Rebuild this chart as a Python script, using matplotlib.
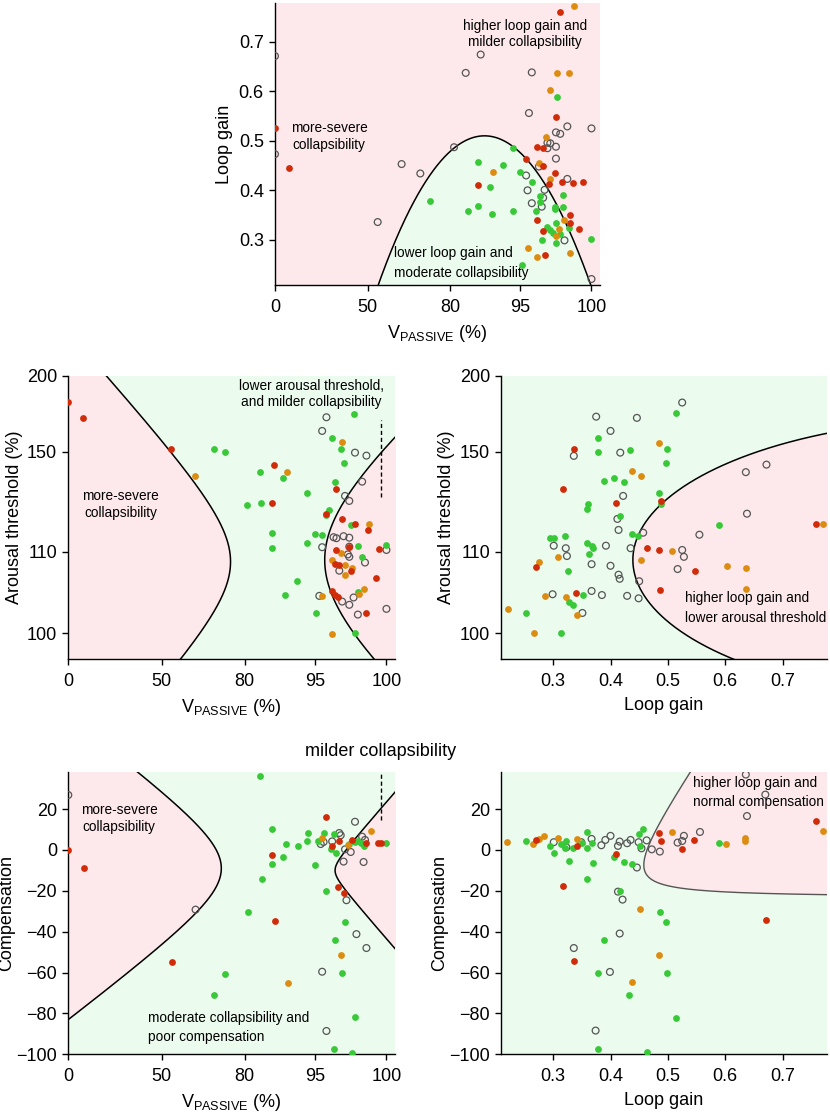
import numpy as np
import matplotlib
matplotlib.use('Agg')
import matplotlib.pyplot as plt

plt.rcParams['font.family'] = ['Liberation Sans', 'DejaVu Sans']
plt.rcParams['mathtext.fontset'] = 'custom'
plt.rcParams['mathtext.rm'] = 'Liberation Sans'
plt.rcParams['mathtext.it'] = 'Liberation Sans:italic'
plt.rcParams['mathtext.bf'] = 'Liberation Sans:bold'

# ---------------- axis tick values ----------------
V_TICKS = [0, 50, 80, 95, 100]
V_TICK_LABELS = ['0', '50', '80', '95', '100']
AT_TICKS = [100, 110, 150, 200]
LG_TICKS = [0.3, 0.4, 0.5, 0.6, 0.7]
COMP_TICKS = [20, 0, -20, -40, -60, -80, -100]

# ---------------- panel 1: V_PASSIVE vs loop gain ----------------
p1_open_v = [0, 0, 53.6, 62.3, 69.1, 80.8, 83.3, 86.5, 95.6, 95.8, 98.3, 100, 97.5, 97.8, 96.9,
             97.1, 96.9, 97.5, 97.5, 96.3, 95.4, 98.3, 95.5, 96.6, 96.7, 95.8, 96.5, 98.1, 100]
p1_open_lg = [0.671, 0.473, 0.336, 0.453, 0.434, 0.487, 0.637, 0.674, 0.556, 0.638, 0.529, 0.525, 0.517, 0.514, 0.496,
              0.495, 0.485, 0.488, 0.464, 0.448, 0.430, 0.423, 0.400, 0.385, 0.401, 0.374, 0.367, 0.299, 0.221]
p1_green_v = [72.8, 83.8, 85.9, 85.9, 88.4, 88.9, 91.2, 93.4, 93.4, 95.0, 95.8, 95.1, 96.1, 96.4, 96.4,
              96.5, 96.9, 97.1, 97.3, 97.4, 97.4, 97.5, 97.5, 97.6, 97.8, 98.0, 98.0, 98.4, 100]
p1_green_lg = [0.378, 0.358, 0.457, 0.369, 0.406, 0.352, 0.451, 0.358, 0.486, 0.438, 0.416, 0.250, 0.358, 0.377, 0.389,
               0.300, 0.326, 0.320, 0.313, 0.362, 0.367, 0.335, 0.293, 0.589, 0.311, 0.391, 0.367, 0.324, 0.301]
p1_orange_v = [89.1, 96.8, 96.3, 97.1, 97.1, 97.6, 98.4, 98.8, 95.5, 96.2, 97.5, 97.7, 98.1, 98.5]
p1_orange_lg = [0.437, 0.508, 0.455, 0.422, 0.603, 0.637, 0.637, 0.772, 0.284, 0.265, 0.308, 0.322, 0.340, 0.274]
p1_red_v = [0, 7.6, 85.9, 95.4, 96.2, 96.6, 96.6, 97.4, 97.0, 97.9, 98.7, 99.4, 97.5, 97.8, 96.2, 96.6, 96.7, 98.5, 98.5, 99.1]
p1_red_lg = [0.525, 0.446, 0.410, 0.463, 0.488, 0.485, 0.450, 0.435, 0.412, 0.416, 0.414, 0.416, 0.547, 0.760,
             0.340, 0.318, 0.269, 0.350, 0.335, 0.322]

# ---------------- panel 2: V_PASSIVE vs arousal threshold ----------------
p2_open_v = [95.8, 95.5, 97.8, 98.6, 98.3, 97.1, 97.4, 95.5, 96.3, 96.5, 97.0, 97.4, 97.4, 97.3, 97.4, 98.5,
             96.7, 100, 95.3, 96.9, 97.4, 97.7, 98.0, 100]
p2_open_at = [172.8, 163.8, 149.7, 148.5, 138.1, 132.4, 130.4, 111.9, 115.9, 115.5, 116.3, 115.7, 112.1, 109.7, 109.4,
              108.7, 107.7, 110.8, 104.6, 103.9, 103.5, 104.4, 102.3, 103.0]
p2_green_v = [68.9, 72.8, 83.2, 88.2, 80.6, 83.6, 93.2, 85.8, 85.8, 91.1, 88.7, 93.4, 94.9, 95.5, 95.1, 97.7,
              96.2, 96.8, 97.0, 96.4, 96.0, 95.8, 97.5, 98.0, 98.3, 98.0, 97.8, 100]
p2_green_at = [151.8, 149.8, 142.0, 139.7, 128.9, 129.5, 133.5, 117.7, 111.7, 106.4, 104.7, 113.5, 117.3, 116.8, 102.5,
               175.2, 159.2, 152.0, 145.5, 138.1, 126.8, 124.8, 120.8, 112.4, 109.4, 105.1, 100.0, 112.7]
p2_orange_v = [62.1, 89.0, 96.9, 98.8, 96.2, 96.8, 97.1, 97.1, 97.6, 98.4, 95.5, 96.2, 98.1]
p2_orange_at = [140.4, 142.1, 156.4, 121.3, 109.0, 109.9, 108.4, 107.2, 108.0, 105.4, 104.6, 99.9, 104.8]
p2_red_v = [0, 7.9, 53.5, 86.3, 85.8, 96.5, 95.8, 96.9, 97.8, 98.7, 96.5, 97.4, 96.4, 96.7, 97.5, 99.5, 99.3,
            96.2, 96.4, 96.6, 98.6]
p2_red_at = [182.7, 172.1, 152.0, 144.8, 129.5, 135.1, 125.2, 123.2, 121.1, 118.7, 110.8, 111.9, 108.5, 108.4,
             107.7, 111.3, 106.8, 105.2, 104.7, 104.4, 102.5]

# ---------------- panel 3: loop gain vs arousal threshold ----------------
p3_open_lg = [0.525, 0.375, 0.446, 0.400, 0.336, 0.417, 0.422, 0.636, 0.672, 0.638, 0.412, 0.414, 0.457, 0.555,
              0.301, 0.322, 0.324, 0.392, 0.435, 0.367, 0.400, 0.414, 0.416, 0.450, 0.525, 0.528, 0.517, 0.299,
              0.367, 0.385, 0.429, 0.449, 0.351]
p3_open_at = [182.5, 173.2, 172.4, 163.8, 148.4, 149.7, 132.4, 141.9, 144.9, 125.3, 123.2, 118.8, 117.7, 116.9,
              112.5, 111.5, 109.5, 112.5, 111.5, 108.5, 108.3, 107.2, 106.7, 106.4, 110.8, 109.4, 107.9, 104.8,
              105.2, 104.7, 104.6, 104.3, 102.5]
p3_green_lg = [0.514, 0.378, 0.378, 0.434, 0.498, 0.496, 0.389, 0.406, 0.424, 0.485, 0.488, 0.360, 0.359, 0.416,
               0.589, 0.438, 0.448, 0.320, 0.294, 0.302, 0.359, 0.368, 0.369, 0.362, 0.325, 0.352, 0.327, 0.335,
               0.252, 0.313]
p3_green_at = [175.7, 159.4, 149.9, 151.3, 151.8, 145.7, 138.3, 139.6, 137.9, 133.5, 129.1, 129.3, 127.1, 124.3,
               120.8, 117.3, 116.4, 116.4, 115.6, 115.6, 113.6, 112.3, 111.7, 109.7, 107.7, 104.7, 103.9, 103.5,
               102.5, 100.0]
p3_orange_lg = [0.485, 0.438, 0.453, 0.276, 0.309, 0.454, 0.507, 0.603, 0.636, 0.636, 0.285, 0.322, 0.341, 0.221,
                0.266, 0.770]
p3_orange_at = [156.1, 142.4, 140.4, 108.8, 109.4, 109.0, 110.3, 108.3, 108.0, 105.4, 104.6, 104.4, 102.3, 103.0,
                100.0, 121.3]
p3_red_lg = [0.337, 0.318, 0.410, 0.488, 0.463, 0.485, 0.547, 0.487, 0.340, 0.270, 0.758]
p3_red_at = [152.0, 135.2, 129.6, 130.3, 111.7, 110.8, 107.7, 105.3, 104.9, 108.2, 121.1]

# ---------------- panel 4: V_PASSIVE vs compensation ----------------
p4_open_v = [0, 62.3, 95.5, 95.8, 97.8, 97.2, 97.9, 98.6, 97.0, 98.4, 95.4, 95.6, 96.2, 96.7, 96.8, 97.1, 97.5, 98.3, 98.5]
p4_open_c = [26.9, -29.2, -59.6, -88.6, 13.8, -24.6, -41.2, -48.0, -5.7, -5.9, 2.9, 3.9, 4.2, 8.3, 7.2, 0.3, -1.0, 6.5, 4.9]
p4_green_v = [83.3, 85.9, 85.9, 83.8, 80.7, 73.0, 69.1, 88.9, 88.2, 91.4, 93.5, 93.3, 95.0, 95.2, 95.6, 96.1,
              96.3, 96.5, 95.8, 97.1, 96.4, 96.9, 97.8, 96.3, 97.6, 97.8, 98.0, 98.2, 98.4, 97.4, 100]
p4_green_c = [36.3, 10.1, -7.0, -14.2, -30.5, -60.6, -71.0, 2.8, -3.3, 2.0, 8.5, 4.6, -7.2, 4.4, 8.5, 0.5,
              7.7, -1.6, -20.0, -35.5, -44.3, -60.4, -81.9, -97.4, -99.2, 4.1, 4.4, 3.3, 2.0, 2.9, 3.6]
p4_orange_v = [89.2, 96.8, 95.5, 98.9, 97.3]
p4_orange_c = [-64.9, -51.5, 5.7, 9.3, 2.4]
p4_red_v = [0, 8.2, 53.7, 85.9, 86.5, 95.8, 96.2, 96.7, 96.6, 97.0, 97.6, 98.6, 99.4, 99.6]
p4_red_c = [0, -9.0, -54.6, -2.3, -34.7, 16.3, 2.0, 4.4, -17.9, -20.9, 4.9, 3.6, 3.6, 3.6]

# ---------------- panel 5: loop gain vs compensation ----------------
p5_open_lg = [0.636, 0.670, 0.638, 0.556, 0.528, 0.525, 0.517, 0.486, 0.472, 0.463, 0.454, 0.449, 0.435, 0.429,
              0.416, 0.413, 0.400, 0.391, 0.384, 0.367, 0.349, 0.323, 0.301, 0.446, 0.413, 0.421, 0.416, 0.336,
              0.399, 0.374]
p5_open_c = [36.9, 27.1, 16.6, 8.8, 6.9, 4.4, 3.6, -0.8, 0.3, 4.7, 0.8, 3.8, 4.9, 3.3, 4.1, 2.0, 6.9, 4.9, 2.3,
             5.4, 3.8, 1.3, 3.8, -8.6, -20.4, -24.3, -40.9, -48.0, -59.7, -88.4]
p5_green_lg = [0.252, 0.294, 0.301, 0.313, 0.320, 0.322, 0.327, 0.335, 0.350, 0.359, 0.359, 0.359, 0.368, 0.369,
               0.406, 0.423, 0.438, 0.449, 0.457, 0.451, 0.416, 0.486, 0.496, 0.388, 0.378, 0.498, 0.433, 0.514,
               0.378, 0.464, 0.589]
p5_green_c = [4.4, 2.0, -1.3, 2.9, 0.8, 4.4, -5.2, 1.1, 3.6, 8.6, 0.8, -14.0, 3.3, -6.5, -3.3, -5.7, -6.7, 7.7,
              10.3, 2.0, -19.9, -30.2, -35.4, -44.0, -60.4, -60.2, -70.8, -82.1, -97.4, -98.9, 3.3]
p5_orange_lg = [0.220, 0.265, 0.276, 0.284, 0.308, 0.341, 0.507, 0.602, 0.635, 0.635, 0.770, 0.452, 0.485, 0.437]
p5_orange_c = [4.1, 2.8, 5.2, 6.7, 6.0, 5.4, 8.6, 2.8, 5.7, 4.6, 9.5, -28.9, -51.4, -64.6]
p5_red_lg = [0.270, 0.341, 0.318, 0.410, 0.485, 0.488, 0.524, 0.546, 0.758, 0.672, 0.336]
p5_red_c = [4.7, 2.0, -17.5, -2.0, 8.2, 4.4, 0.3, 4.9, 14.4, -34.4, -54.3]

# ---------------- styling ----------------
GREEN = '#38c838'
ORANGE = '#dc8c10'
RED = '#d02c0a'
OPEN_EDGE = '#555555'
PINK = '#fde9eb'
MINT = '#ebfbee'


def piecewise(xs, ys):
    xs = np.asarray(xs, float)
    ys = np.asarray(ys, float)
    s0 = (ys[1] - ys[0]) / (xs[1] - xs[0])
    s1 = (ys[-1] - ys[-2]) / (xs[-1] - xs[-2])

    def f(v):
        v = np.asarray(v, float)
        out = np.interp(v, xs, ys)
        out = np.where(v < xs[0], ys[0] + (v - xs[0]) * s0, out)
        out = np.where(v > xs[-1], ys[-1] + (v - xs[-1]) * s1, out)
        return out
    return f


# nonlinear axis scales (relative tick spacing)
V_POS = [0, 0.2932, 0.5539, 0.7755, 1.0]
AT_POS = [0, 0.316, 0.705, 1.0]
fV, iV = piecewise(V_TICKS, V_POS), piecewise(V_POS, V_TICKS)
fAT, iAT = piecewise(AT_TICKS, AT_POS), piecewise(AT_POS, AT_TICKS)

V_LIM = (0, 100.6)
LG_LIM = (0.209, 0.778)
AT_LIM = (96.8, 200)
C_LIM = (-100, 38)

fig = plt.figure(figsize=(8.3, 11.18), dpi=100)

VLABEL = r'V$_{\mathrm{PASSIVE}}$ (%)'
TICK_FS = 13
LAB_FS = 13
ANN_FS = 9.8


def style(ax):
    for s in ['top', 'right']:
        ax.spines[s].set_visible(False)
    for s in ['left', 'bottom']:
        ax.spines[s].set_linewidth(1.0)
    ax.tick_params(labelsize=TICK_FS, length=4, width=1, direction='out')
    ax.tick_params(axis='x', pad=6)
    ax.tick_params(axis='y', pad=4)
    ax.minorticks_off()


def scatter_groups(ax, groups):
    for (x, y, kind) in groups:
        if kind == 'open':
            ax.scatter(x, y, s=24, facecolors='none', edgecolors=OPEN_EDGE, linewidths=0.9, zorder=3)
        else:
            ax.scatter(x, y, s=24, color=kind, linewidths=0, zorder=3)


def v_axis(ax):
    ax.set_xscale('function', functions=(fV, iV))
    ax.set_xlim(*V_LIM)
    ax.set_xticks(V_TICKS)
    ax.set_xticklabels(V_TICK_LABELS)
    ax.set_xlabel(VLABEL, fontsize=LAB_FS, labelpad=5)


def at_axis(ax):
    ax.set_yscale('function', functions=(fAT, iAT))
    ax.set_ylim(*AT_LIM)
    ax.set_yticks(AT_TICKS)
    ax.set_yticklabels([str(t) for t in AT_TICKS])
    ax.set_ylabel('Arousal threshold (%)', fontsize=LAB_FS, labelpad=3)


# ===== Panel 1 =====
ax1 = fig.add_axes([0.3313, 0.7451, 0.3916, 0.2522])
ax1.set_facecolor(PINK)
v_axis(ax1)
ax1.set_ylim(*LG_LIM)
ax1.set_yticks(LG_TICKS)
ax1.set_ylabel('Loop gain', fontsize=LAB_FS, labelpad=4)
t = np.linspace(-0.05, 1.05, 600)
lg_curve = 0.51 - 2.67 * (t - 0.662) ** 2
ax1.fill_between(iV(t), 0.0, lg_curve, color=MINT, lw=0, zorder=1)
ax1.plot(iV(t), lg_curve, color='k', lw=1.1, zorder=2.5)
scatter_groups(ax1, [(p1_open_v, p1_open_lg, 'open'), (p1_green_v, p1_green_lg, GREEN),
                     (p1_orange_v, p1_orange_lg, ORANGE), (p1_red_v, p1_red_lg, RED)])
ax1.text(0.769, 0.890, 'higher loop gain and\nmilder collapsibility', transform=ax1.transAxes,
         ha='center', va='center', fontsize=ANN_FS, linespacing=1.25, zorder=4)
ax1.text(0.166, 0.526, 'more-severe\ncollapsibility', transform=ax1.transAxes,
         ha='center', va='center', fontsize=ANN_FS, linespacing=1.25, zorder=4)
ax1.text(0.367, 0.078, 'lower loop gain and\nmoderate collapsibility', transform=ax1.transAxes,
         ha='left', va='center', fontsize=ANN_FS, linespacing=1.5, zorder=4)
style(ax1)

# ===== Panel 2 =====
ax2 = fig.add_axes([0.0823, 0.4103, 0.3936, 0.2534])
ax2.set_facecolor(MINT)
v_axis(ax2)
at_axis(ax2)
yt = np.linspace(-0.3, 1.2, 600)
left_t = 0.51 - 0.17 * (np.sqrt(1 + ((yt - 0.278) / 0.23) ** 2) - 1)
right_t = 0.806 + 0.35 * (np.sqrt(1 + ((yt - 0.285) / 0.37) ** 2) - 1)
ax2.fill_betweenx(iAT(yt), -10, iV(left_t), color=PINK, lw=0, zorder=1)
ax2.fill_betweenx(iAT(yt), iV(right_t), 110, color=PINK, lw=0, zorder=1)
ax2.plot(iV(left_t), iAT(yt), color='k', lw=1.1, zorder=2.5)
ax2.plot(iV(right_t), iAT(yt), color='k', lw=1.1, zorder=2.5)
ax2.plot([99.6, 99.6], [132, 171], color='k', lw=1.0, ls=(0, (3, 2)), zorder=2.5)
scatter_groups(ax2, [(p2_open_v, p2_open_at, 'open'), (p2_green_v, p2_green_at, GREEN),
                     (p2_orange_v, p2_orange_at, ORANGE), (p2_red_v, p2_red_at, RED)])
ax2.text(0.743, 0.936, 'lower arousal threshold,\nand milder collapsibility', transform=ax2.transAxes,
         ha='center', va='center', fontsize=ANN_FS, linespacing=1.25, zorder=4)
ax2.text(0.160, 0.546, 'more-severe\ncollapsibility', transform=ax2.transAxes,
         ha='center', va='center', fontsize=ANN_FS, linespacing=1.25, zorder=4)
style(ax2)

# ===== Panel 3 =====
ax3 = fig.add_axes([0.6036, 0.4103, 0.3931, 0.2534])
ax3.set_facecolor(MINT)
at_axis(ax3)
ax3.set_xlim(*LG_LIM)
ax3.set_xticks(LG_TICKS)
ax3.set_xlabel('Loop gain', fontsize=LAB_FS, labelpad=5)
ye = np.linspace(0.285 - 0.5499, 0.285 + 0.5499, 800)
xe = 0.439 + 0.611 * (1 - np.sqrt(1 - ((ye - 0.285) / 0.55) ** 2))
ax3.fill_betweenx(iAT(ye), xe, 0.9, color=PINK, lw=0, zorder=1)
ax3.plot(xe, iAT(ye), color='k', lw=1.1, zorder=2.5)
scatter_groups(ax3, [(p3_open_lg, p3_open_at, 'open'), (p3_green_lg, p3_green_at, GREEN),
                     (p3_orange_lg, p3_orange_at, ORANGE), (p3_red_lg, p3_red_at, RED)])
ax3.text(0.564, 0.181, 'higher loop gain and\nlower arousal threshold', transform=ax3.transAxes,
         ha='left', va='center', fontsize=ANN_FS, linespacing=1.5, zorder=4)
style(ax3)

# ===== Panel 4 =====
ax4 = fig.add_axes([0.0823, 0.0570, 0.3936, 0.2522])
ax4.set_facecolor(MINT)
v_axis(ax4)
ax4.set_ylim(*C_LIM)
ax4.set_yticks(COMP_TICKS)
ax4.set_ylabel('Compensation', fontsize=LAB_FS, labelpad=1)
yc = np.linspace(-120, 50, 800)
left4 = 0.481 - 0.1806 * (np.sqrt(1 + ((yc + 9) / 21) ** 2) - 1)
right4 = 0.8386 + 0.028 * (np.sqrt(1 + ((yc + 10) / 5) ** 2) - 1)
ax4.fill_betweenx(yc, -10, iV(left4), color=PINK, lw=0, zorder=1)
ax4.fill_betweenx(yc, iV(right4), 110, color=PINK, lw=0, zorder=1)
ax4.plot(iV(left4), yc, color='k', lw=1.1, zorder=2.5)
ax4.plot(iV(right4), yc, color='k', lw=1.1, zorder=2.5)
ax4.plot([99.6, 99.6], [14.7, 38], color='k', lw=1.0, ls=(0, (3, 2)), zorder=2.5)
scatter_groups(ax4, [(p4_open_v, p4_open_c, 'open'), (p4_green_v, p4_green_c, GREEN),
                     (p4_orange_v, p4_orange_c, ORANGE), (p4_red_v, p4_red_c, RED)])
ax4.text(0.155, 0.835, 'more-severe\ncollapsibility', transform=ax4.transAxes,
         ha='center', va='center', fontsize=ANN_FS, linespacing=1.25, zorder=4)
ax4.text(0.245, 0.095, 'moderate collapsibility and\npoor compensation', transform=ax4.transAxes,
         ha='left', va='center', fontsize=ANN_FS, linespacing=1.5, zorder=4)
style(ax4)

# ===== Panel 5 =====
ax5 = fig.add_axes([0.6036, 0.0570, 0.3931, 0.2522])
ax5.set_facecolor(MINT)
ax5.set_xlim(*LG_LIM)
ax5.set_xticks(LG_TICKS)
ax5.set_xlabel('Loop gain', fontsize=LAB_FS, labelpad=5)
ax5.set_ylim(*C_LIM)
ax5.set_yticks(COMP_TICKS)
ax5.set_ylabel('Compensation', fontsize=LAB_FS, labelpad=1)
sh = np.geomspace(0.3, 90, 800)
yh = -23.5 + sh
xh = 0.380 + 0.002416 * sh + 0.631 / sh
ax5.fill_betweenx(yh, xh, 0.9, color=PINK, lw=0, zorder=1)
ax5.plot(xh, yh, color='#555555', lw=1.0, zorder=2.5)
scatter_groups(ax5, [(p5_open_lg, p5_open_c, 'open'), (p5_green_lg, p5_green_c, GREEN),
                     (p5_orange_lg, p5_orange_c, ORANGE), (p5_red_lg, p5_red_c, RED)])
ax5.text(0.587, 0.928, 'higher loop gain and\nnormal compensation', transform=ax5.transAxes,
         ha='left', va='center', fontsize=ANN_FS, linespacing=1.5, zorder=4)
style(ax5)

fig.text(0.458, 0.3276, 'milder collapsibility', ha='center', va='center', fontsize=13)

fig.savefig('out.png', dpi=100)
